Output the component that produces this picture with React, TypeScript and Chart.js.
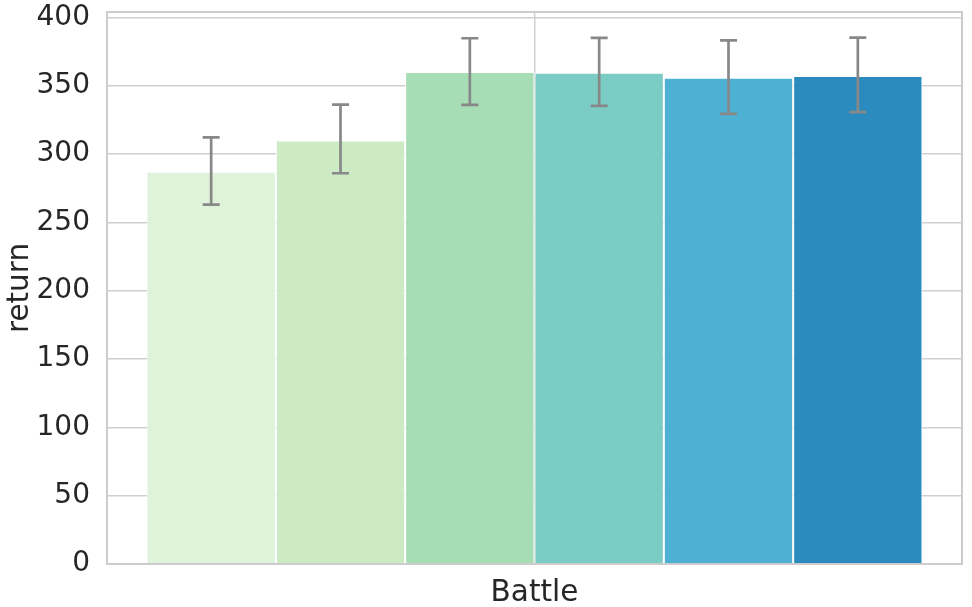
import React, { useEffect, useRef } from "react";
import { Chart, registerables } from "chart.js";

Chart.register(...registerables);

const categories = ["Battle"];
const seriesNames = ["s1", "s2", "s3", "s4", "s5", "s6"];
const means = [287, 310, 360, 359.5, 355.8, 357.2];
const errLow = [263, 286, 336, 335.3, 329.5, 330.7];
const errHigh = [312.3, 336.2, 384.8, 385, 383.2, 385.2];
const colors = ["#dff2da", "#ccebc5", "#a6ddb5", "#7bccc4", "#4eb1d4", "#2b8bbe"];
const yTickValues = [0, 50, 100, 150, 200, 250, 300, 350, 400];
const yMax = 404;
const xLabel = "Battle";
const yLabel = "return";

const FONT = "DejaVu Sans";
const TEXT = "#262626";
const GRID = "#cfcfcf";
const FS = 28;
const LFS = 29.5;

const errorBarPlugin = {
  id: "errorBars",
  afterDatasetsDraw(chart: any) {
    const ctx = chart.ctx;
    const y = chart.scales.y;
    ctx.save();
    ctx.strokeStyle = "#888888";
    ctx.lineWidth = 2.7;
    ctx.lineCap = "butt";
    chart.data.datasets.forEach((ds: any, i: number) => {
      const meta = chart.getDatasetMeta(i);
      const el = meta.data[0];
      if (!el) return;
      const cx = el.x;
      const yt = y.getPixelForValue(errHigh[i]);
      const yb = y.getPixelForValue(errLow[i]);
      const cap = 8.5;
      ctx.beginPath();
      ctx.moveTo(cx, yt);
      ctx.lineTo(cx, yb);
      ctx.moveTo(cx - cap, yt);
      ctx.lineTo(cx + cap, yt);
      ctx.moveTo(cx - cap, yb);
      ctx.lineTo(cx + cap, yb);
      ctx.stroke();
    });
    ctx.restore();
  },
};

const framePlugin = {
  id: "frame",
  afterDraw(chart: any) {
    const { left, right, top, bottom } = chart.chartArea;
    const ctx = chart.ctx;
    ctx.save();
    ctx.strokeStyle = "#cccccc";
    ctx.lineWidth = 2;
    ctx.strokeRect(left, top, right - left, bottom - top);
    ctx.restore();
  },
};

export default function App() {
  const ref = useRef<HTMLCanvasElement | null>(null);
  useEffect(() => {
    document.body.style.margin = "0";
    if (!ref.current) return;
    const chart = new Chart(ref.current, {
      type: "bar",
      data: {
        labels: categories,
        datasets: seriesNames.map((n, i) => ({
          label: n,
          data: [means[i]],
          backgroundColor: colors[i],
          borderColor: "#ffffff",
          borderWidth: 1,
          borderSkipped: "bottom" as const,
          barPercentage: 1,
          categoryPercentage: 0.9076,
        })),
      },
      options: {
        animation: false,
        responsive: false,
        maintainAspectRatio: false,
        layout: { padding: { top: 12, right: 10, left: 0, bottom: 0 } },
        plugins: {
          legend: { display: false },
          tooltip: { enabled: false },
          title: { display: false },
        },
        scales: {
          x: {
            type: "category",
            offset: true,
            grid: { display: true, offset: false, color: GRID, lineWidth: 1.5, drawTicks: false },
            border: { display: false },
            ticks: { display: false },
            title: {
              display: true,
              text: xLabel,
              color: TEXT,
              font: { family: FONT, size: LFS },
              padding: { top: 13, bottom: -4 },
            },
            afterFit(scale: any) {
              scale.height = 43;
              scale.paddingLeft = 0;
              scale.paddingRight = 0;
            },
          },
          y: {
            type: "linear",
            min: 0,
            max: yMax,
            afterBuildTicks(scale: any) {
              scale.ticks = yTickValues.map((v) => ({ value: v }));
            },
            grid: { color: GRID, lineWidth: 1.5, drawTicks: false },
            border: { display: false },
            ticks: {
              color: TEXT,
              font: { family: FONT, size: FS },
              padding: 17,
            },
            title: {
              display: true,
              text: yLabel,
              color: TEXT,
              font: { family: FONT, size: LFS },
              padding: { top: 3, bottom: 0 },
            },
            afterFit(scale: any) {
              scale.width = 107;
              scale.paddingTop = 0;
              scale.paddingBottom = 0;
            },
          },
        },
      },
      plugins: [errorBarPlugin, framePlugin],
    });
    return () => chart.destroy();
  }, []);
  return (
    <div style={{ position: "absolute", left: 0, top: 0, width: 972, height: 607 }}>
      <canvas ref={ref} width={972} height={607} style={{ width: 972, height: 607 }} />
    </div>
  );
}
